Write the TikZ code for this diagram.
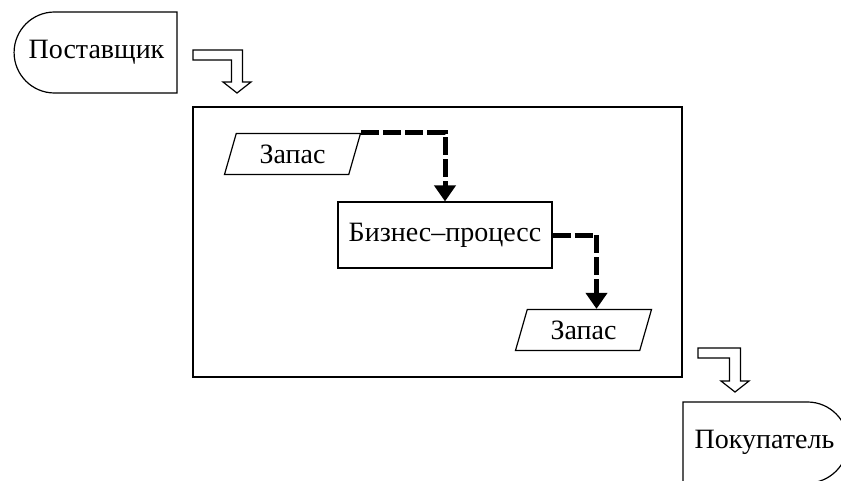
\documentclass[tikz,border=0pt]{standalone}
\usepackage{fontspec}
\setmainfont{Liberation Serif}
\usepackage{tikz}
\usetikzlibrary{positioning, calc, shapes.geometric, shapes.misc, arrows.meta}

\newcommand{\hollowarrow}[2]{%
  \draw[hollow] let \p1=(#1), \p2=(#2) in
    (\x1,\y1+5pt) -- (\x2+5.5pt,\y1+5pt) -- (\x2+5.5pt,\y2+11pt) -- (\x2+14pt,\y2+11pt)
    -- (\x2,\y2) -- (\x2-14pt,\y2+11pt) -- (\x2-5.5pt,\y2+11pt) -- (\x2-5.5pt,\y1-5pt)
    -- (\x1,\y1-5pt) -- cycle;}

\begin{document}
\begin{tikzpicture}[x=1pt, y=-1pt,
    every node/.style={font=\fontsize{28}{32}\selectfont, line width=1.2pt},
    party/.style={draw, rounded rectangle, minimum width=163pt, minimum height=81pt, inner sep=0pt},
    stock/.style={draw, trapezium, trapezium left angle=58, trapezium right angle=122,
        trapezium stretches body, minimum width=136pt, minimum height=41pt, inner sep=0pt},
    hollow/.style={draw, fill=white, line width=1.2pt},
    flow/.style={line width=5pt, dash pattern=on 18pt off 4pt,
        -{Triangle[width=21pt, length=16pt]}}]
        \useasboundingbox (0,0) rectangle (841,480);
        \node[party, rounded rectangle right arc=none] (supplier) at (96.5,52.5) {Поставщик};
        \node[draw, minimum width=489pt, minimum height=270pt] (system) at (437.5,242) {};
        \node[stock] (stockin) at (292.5,154) {Запас};
        \node[draw, minimum width=214pt, minimum height=66pt, inner sep=0pt] (process) at (445,235) {Бизнес–процесс};
        \node[stock] (stockout) at (583.5,330) {Запас};
        \node[party, rounded rectangle left arc=none, minimum width=165pt] (customer) at (764.5,442.5) {Покупатель};
        \coordinate (in1) at (193,55);
        \coordinate (in2) at (237,93);
        \coordinate (out1) at (698,353);
        \coordinate (out2) at (735,392);
        \hollowarrow{in1}{in2}
        \hollowarrow{out1}{out2}
        \draw[flow] (stockin.top right corner) -| (process.north);
        \draw[flow] (process.east) -| ([xshift=13pt]stockout.north);
    \end{tikzpicture}
\end{document}
